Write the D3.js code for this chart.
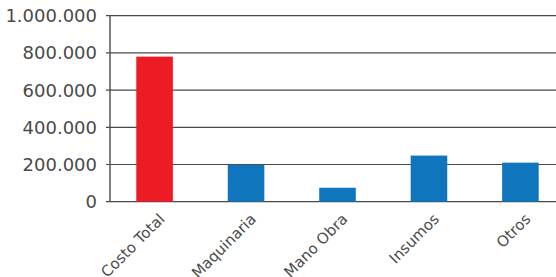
<!DOCTYPE html>
<html>
<head>
<meta charset="utf-8">
<script src="https://cdn.jsdelivr.net/npm/d3@7"></script>
<style>
  body { margin: 0; background: #fff; }
  svg text { font-family: "DejaVu Sans", sans-serif; fill: #4a4a4a; }
</style>
</head>
<body>
<div id="chart"></div>
<script>
var categories = ["Costo Total", "Maquinaria", "Mano Obra", "Insumos", "Otros"];
var values = [780000, 198000, 75000, 248000, 210000];
var barColors = ["#ED1C24", "#0F75BC", "#0F75BC", "#0F75BC", "#0F75BC"];
var yTicks = [0, 200000, 400000, 600000, 800000, 1000000];

var width = 556, height = 277;

var svg = d3.select("#chart")
    .append("svg")
    .attr("width", width)
    .attr("height", height);

// scales
var x = d3.scaleBand()
    .domain(categories)
    .range([118, 557])
    .paddingInner(0.6)
    .paddingOuter(0.2);

var y = d3.scaleLinear()
    .domain([0, 1000000])
    .range([201.7, 15.7]);

var fmt = function (d) {
    return d3.format(",")(d).replace(/,/g, ".");
};

// gridlines
svg.append("g")
    .selectAll("line")
    .data(yTicks)
    .enter()
    .append("line")
    .attr("x1", 106)
    .attr("x2", width)
    .attr("y1", function (d) { return y(d); })
    .attr("y2", function (d) { return y(d); })
    .attr("stroke", "#4a4a4a")
    .attr("stroke-width", 1.2);

// y axis line
svg.append("line")
    .attr("x1", 110).attr("x2", 110)
    .attr("y1", y(1000000)).attr("y2", y(0))
    .attr("stroke", "#4a4a4a")
    .attr("stroke-width", 1.4);

// y tick labels
svg.append("g")
    .selectAll("text")
    .data(yTicks)
    .enter()
    .append("text")
    .attr("x", 97)
    .attr("y", function (d) { return y(d); })
    .attr("dy", "0.36em")
    .attr("text-anchor", "end")
    .style("font-size", "18px")
    .text(fmt);

// bars
svg.append("g")
    .selectAll("rect")
    .data(values)
    .enter()
    .append("rect")
    .attr("x", function (d, i) { return x(categories[i]); })
    .attr("width", x.bandwidth())
    .attr("y", function (d) { return y(d); })
    .attr("height", function (d) { return y(0) - y(d); })
    .style("fill", function (d, i) { return barColors[i]; });

// x labels, rotated
svg.append("g")
    .selectAll("text")
    .data(categories)
    .enter()
    .append("text")
    .attr("text-anchor", "end")
    .attr("transform", function (d) {
        var cx = x(d) + x.bandwidth() / 2 + 11;
        return "translate(" + cx + ",220) rotate(-45)";
    })
    .style("font-size", "15px")
    .text(function (d) { return d; });
</script>
</body>
</html>
